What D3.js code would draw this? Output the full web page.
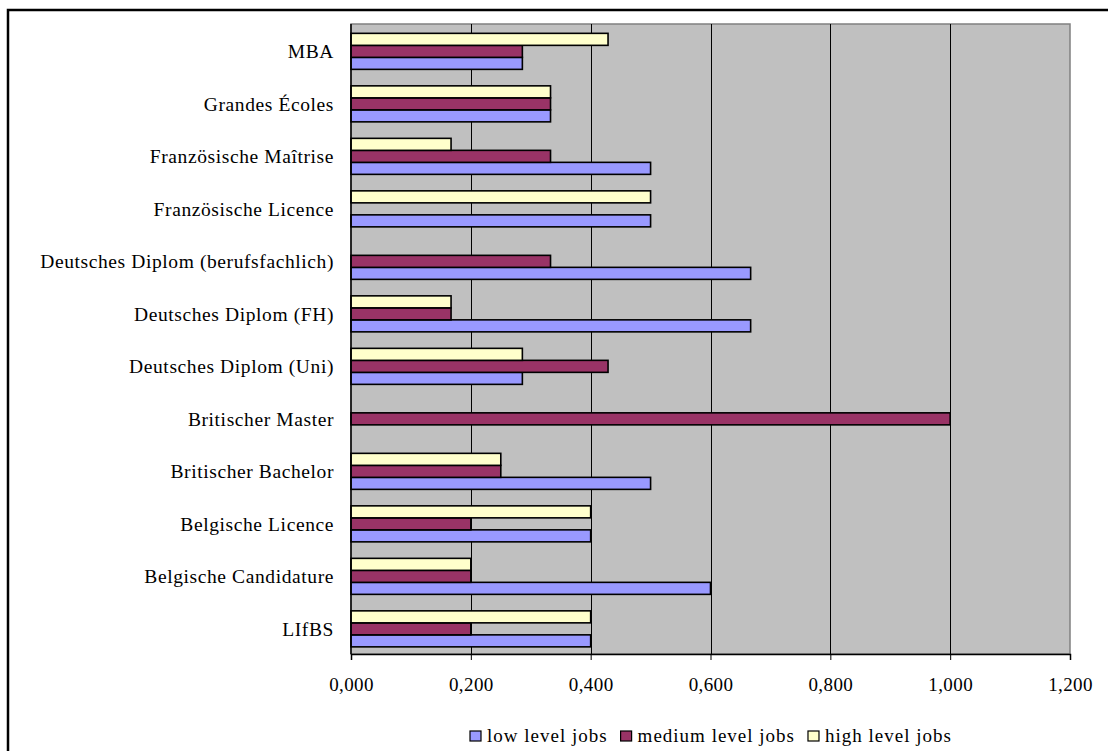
<!DOCTYPE html>
<html>
<head>
<meta charset="utf-8">
<script src="https://cdn.jsdelivr.net/npm/d3@7"></script>
<style>
  html, body { margin: 0; padding: 0; background: #fff; }
  svg { display: block; }
  text { font-family: "Liberation Serif", "Times New Roman", serif; fill: #000; }
</style>
</head>
<body>
<svg id="chart" width="1108" height="751"></svg>
<script>
// Degree programmes, listed top to bottom
const categories = [
  "MBA",
  "Grandes Écoles",
  "Französische Maîtrise",
  "Französische Licence",
  "Deutsches Diplom (berufsfachlich)",
  "Deutsches Diplom (FH)",
  "Deutsches Diplom (Uni)",
  "Britischer Master",
  "Britischer Bachelor",
  "Belgische Licence",
  "Belgische Candidature",
  "LIfBS"
];

// Share of graduates per job level
const lowLevel    = [0.286, 0.333, 0.500, 0.500, 0.667, 0.667, 0.286, 0.000, 0.500, 0.400, 0.600, 0.400];
const mediumLevel = [0.286, 0.333, 0.333, 0.000, 0.333, 0.167, 0.429, 1.000, 0.250, 0.200, 0.200, 0.200];
const highLevel   = [0.429, 0.333, 0.167, 0.500, 0.000, 0.167, 0.286, 0.000, 0.250, 0.400, 0.200, 0.400];

const seriesNames = ["low level jobs", "medium level jobs", "high level jobs"];
const seriesColors = ["#9999FF", "#993366", "#FFFFCC"];
const xTicks = [0, 0.2, 0.4, 0.6, 0.8, 1.0, 1.2];

const series = [
  { name: seriesNames[0], color: seriesColors[0], values: lowLevel },
  { name: seriesNames[1], color: seriesColors[1], values: mediumLevel },
  { name: seriesNames[2], color: seriesColors[2], values: highLevel }
];

const svg = d3.select("#chart");

// Outer chart frame
svg.append("rect")
  .attr("x", 8).attr("y", 10)
  .attr("width", 1300).attr("height", 1000)
  .attr("fill", "none").attr("stroke", "#000").attr("stroke-width", 2.5);

const plot = { left: 351, right: 1070, top: 24, bottom: 654 };

const x = d3.scaleLinear().domain([0, 1.2]).range([plot.left, plot.right]);
const y = d3.scaleBand().domain(categories).range([plot.top, plot.bottom]).padding(0);
const bw = y.bandwidth();
// Within each group: high on top, then medium, then low
const inner = d3.scaleBand()
  .domain([seriesNames[2], seriesNames[1], seriesNames[0]])
  .range([bw * 0.178, bw * 0.864]);

// Plot background
svg.append("rect")
  .attr("x", plot.left).attr("y", plot.top)
  .attr("width", plot.right - plot.left).attr("height", plot.bottom - plot.top)
  .attr("fill", "#C0C0C0")
  .attr("stroke", "#808080").attr("stroke-width", 1.5);

// Vertical gridlines
svg.append("g").selectAll("line")
  .data(xTicks.filter(t => t > 0 && t < 1.2))
  .join("line")
  .attr("x1", d => Math.round(x(d)) + 0.5).attr("x2", d => Math.round(x(d)) + 0.5)
  .attr("y1", plot.top).attr("y2", plot.bottom)
  .attr("stroke", "#000").attr("stroke-width", 1);

// Bars
const groups = svg.append("g").selectAll("g")
  .data(categories)
  .join("g")
  .attr("transform", d => `translate(0,${y(d)})`);

groups.selectAll("rect")
  .data((c, i) => series.map(s => ({ name: s.name, color: s.color, value: s.values[i] })).filter(d => d.value > 0))
  .join("rect")
  .attr("x", x(0))
  .attr("y", d => inner(d.name))
  .attr("width", d => x(d.value) - x(0))
  .attr("height", inner.bandwidth())
  .attr("fill", d => d.color)
  .attr("stroke", "#000").attr("stroke-width", 1.6);

// X axis
const locale = d3.formatLocale({ decimal: ",", thousands: ".", grouping: [3], currency: ["", "€"] });
const fmt = locale.format(".3f");
const xAxis = d3.axisBottom(x).tickValues(xTicks).tickFormat(fmt).tickSize(6).tickPadding(18);
const gx = svg.append("g").attr("transform", `translate(0,${plot.bottom})`).call(xAxis);
gx.select(".domain").attr("stroke", "#000").attr("stroke-width", 1.5);
gx.selectAll(".tick line").attr("stroke", "#000");
gx.selectAll(".tick text")
  .style("font-family", "'Liberation Serif', 'Times New Roman', serif")
  .style("font-size", "19px")
  .style("letter-spacing", "0.4px")
  .attr("fill", "#000");

// Y axis line
svg.append("line")
  .attr("x1", plot.left).attr("x2", plot.left)
  .attr("y1", plot.top).attr("y2", plot.bottom)
  .attr("stroke", "#000").attr("stroke-width", 1.5);

// Category labels
svg.append("g").selectAll("text")
  .data(categories)
  .join("text")
  .attr("x", 334)
  .attr("y", d => y(d) + bw / 2 + 1)
  .attr("dy", "0.35em")
  .attr("text-anchor", "end")
  .style("font-size", "19.5px")
  .style("letter-spacing", "0.6px")
  .text(d => d);

// Legend
const legend = svg.append("g").attr("transform", "translate(470,731)");
let lx = 0;
series.forEach(s => {
  const g = legend.append("g").attr("transform", `translate(${lx},0)`);
  g.append("rect")
    .attr("x", 0).attr("y", 0).attr("width", 11).attr("height", 10)
    .attr("fill", s.color).attr("stroke", "#000").attr("stroke-width", 1.2);
  const t = g.append("text")
    .attr("x", 17).attr("y", 10.5)
    .style("font-size", "19px")
    .style("letter-spacing", "1px")
    .text(s.name);
  lx += 17 + t.node().getComputedTextLength() + 13;
});
</script>
</body>
</html>
